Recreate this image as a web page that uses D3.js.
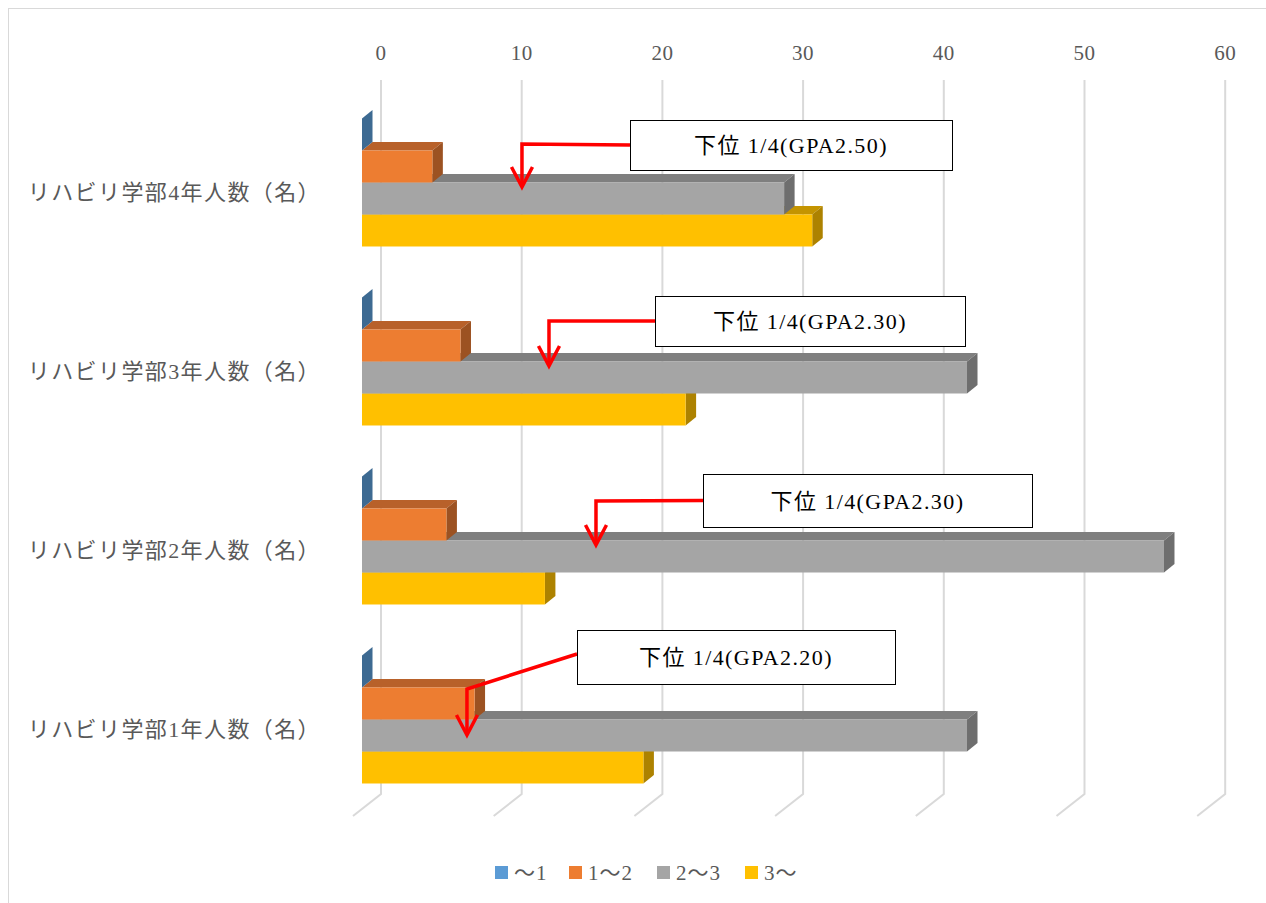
<!DOCTYPE html>
<html><head><meta charset="utf-8">
<script src="https://cdn.jsdelivr.net/npm/d3@7/dist/d3.min.js"></script>
<style>body{margin:0;background:#fff}svg{display:block}</style>
</head><body>
<svg id="c" width="1266" height="903"></svg>
<script>
// ---- data ----
const categories = ["リハビリ学部4年人数（名）","リハビリ学部3年人数（名）","リハビリ学部2年人数（名）","リハビリ学部1年人数（名）"];
const seriesNames = ["～1","1～2","2～3","3～"];
const s1 = [0,0,0,0];
const s2 = [5,7,6,8];
const s3 = [30,43,57,43];
const s4 = [32,23,13,20];
const tickValues = [0,10,20,30,40,50,60];
const annoLabels = ["下位 1/4(GPA2.50)","下位 1/4(GPA2.30)","下位 1/4(GPA2.30)","下位 1/4(GPA2.20)"];
const annoTargets = [11.37,13.29,16.63,7.46];

const seriesValues = [s1,s2,s3,s4];
const front = ["#5B9BD5","#ED7D31","#A5A5A5","#FFC000"];
const topC  = ["#4a7fb0","#b8612a","#7f7f7f","#c49400"];
const sideC = ["#3d6a92","#9c5222","#6e6e6e","#ad8200"];

const svg = d3.select("#c");
const serif = "'Liberation Serif','DejaVu Serif','Noto Sans CJK JP',serif";
const cjk = "'Liberation Serif','Noto Sans CJK JP',serif";

// border
svg.append("rect").attr("x",8.5).attr("y",8.5).attr("width",1300).attr("height",1000)
  .attr("fill","none").attr("stroke","#d9d9d9").attr("stroke-width",1);

const x = d3.scaleLinear().domain([0,60]).range([362,362+60*14.07]);
const y0 = d3.scaleBand().domain(categories).range([93,809]).paddingInner(0.285).paddingOuter(0.1425);
const y1 = d3.scaleBand().domain(seriesNames).range([0,y0.bandwidth()]);
const BX = 19, BY = -15;      // back-wall offset
const DX = 10.5, DY = -8.5;   // bar depth

// gridlines
const g = svg.append("g");
tickValues.forEach(v=>{
  const gx = x(v)+BX;
  g.append("path").attr("d",`M${gx},80 L${gx},794 L${gx-28},816`)
    .attr("fill","none").attr("stroke","#d9d9d9").attr("stroke-width",2);
  svg.append("text").attr("x",gx).attr("y",60).attr("text-anchor","middle")
    .attr("font-family",serif).attr("font-size",21).attr("letter-spacing",0.5).attr("fill","#595959").text(v);
});

// bars: draw bottom series first within category
const bars = svg.append("g");
categories.forEach((c,ci)=>{
  for(let si=3; si>=0; si--){
    const v = seriesValues[si][ci];
    const yt = y0(c)+y1(seriesNames[si]);
    const yb = yt + y1.bandwidth();
    const xl = x(0), xr = x(v);
    bars.append("path").attr("d",`M${xl},${yt} L${xl+DX},${yt+DY} L${xr+DX},${yt+DY} L${xr},${yt}Z`).attr("fill",topC[si]);
    bars.append("path").attr("d",`M${xr},${yt} L${xr+DX},${yt+DY} L${xr+DX},${yb+DY} L${xr},${yb}Z`).attr("fill",sideC[si]);
    if (v>0) bars.append("rect").attr("x",xl).attr("y",yt).attr("width",xr-xl).attr("height",yb-yt).attr("fill",front[si]);
  }
  svg.append("text").attr("x",321).attr("y",y0(c)+y0.bandwidth()/2+17).attr("text-anchor","end")
    .attr("font-family",cjk).attr("font-size",22).attr("letter-spacing",1.4).attr("fill","#595959").text(c);
});

// annotations
const boxes = [[630,120,322,50],[655,296,310,50],[703,474,329,53],[577,630,318,54]];
const tipY = [187,366,545,735];
const elbowY = [144,321,501,689];
const ann = svg.append("g");
categories.forEach((c,i)=>{
  const [bx,by,bw,bh] = boxes[i];
  const ax = x(annoTargets[i]);
  const sy = by+bh/2 - (i===3?3:0);
  ann.append("path").attr("d",`M${bx},${sy} L${ax},${elbowY[i]} L${ax},${tipY[i]}`)
    .attr("fill","none").attr("stroke","#FF0000").attr("stroke-width",3.5);
  ann.append("path").attr("d",`M${ax-10.5},${tipY[i]-20} L${ax},${tipY[i]} L${ax+10.5},${tipY[i]-20}`)
    .attr("fill","none").attr("stroke","#FF0000").attr("stroke-width",3.5);
  ann.append("rect").attr("x",bx+0.5).attr("y",by+0.5).attr("width",bw).attr("height",bh)
    .attr("fill","#fff").attr("stroke","#000").attr("stroke-width",1);
  ann.append("text").attr("x",bx+bw/2).attr("y",by+bh/2+8).attr("text-anchor","middle")
    .attr("font-family",cjk).attr("font-size",22).attr("letter-spacing",1.4).attr("fill","#000").text(annoLabels[i]);
});

// legend
const legX = [495,569,657,745];
seriesNames.forEach((n,i)=>{
  svg.append("rect").attr("x",legX[i]).attr("y",866).attr("width",13).attr("height",13).attr("fill",front[i]);
  svg.append("text").attr("x",legX[i]+19).attr("y",880).attr("font-family",cjk).attr("font-size",21)
    .attr("letter-spacing",1).attr("fill","#595959").text(n);
});
</script>
</body></html>
